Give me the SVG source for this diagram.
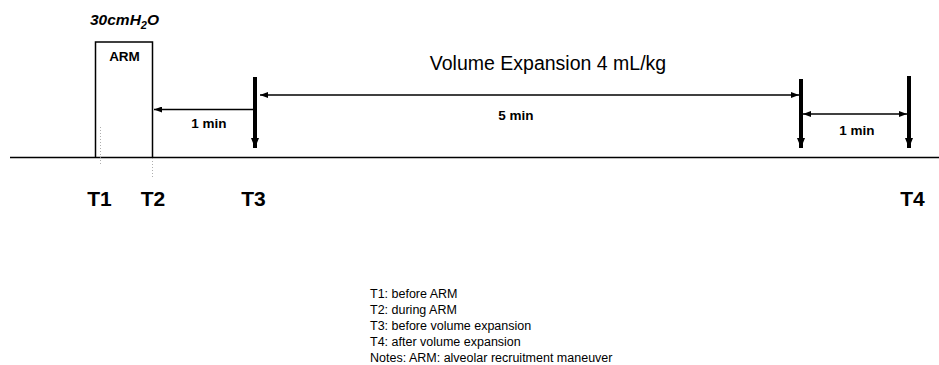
<svg xmlns="http://www.w3.org/2000/svg" width="939" height="365" viewBox="0 0 939 365">
<style>
text{font-family:"Liberation Sans",Arial,sans-serif;fill:#000}
.tl{font-size:21px;font-weight:bold}
.lbl{font-size:13.5px;font-weight:bold}
.leg{font-size:12.5px}
.thin{stroke:#000;stroke-width:1.5;fill:none}
.bar{stroke:#000;stroke-width:4;fill:none}
.dot{stroke:#999;stroke-width:0.8;stroke-dasharray:1 2;fill:none}
</style>
<defs>
<marker id="ah" markerWidth="8" markerHeight="6" refX="8" refY="3" orient="auto-start-reverse" markerUnits="userSpaceOnUse">
<path d="M0,0 L8,3 L0,6 Z" fill="#000"/>
</marker>
<marker id="bh" markerWidth="10" markerHeight="8" refX="10" refY="4" orient="auto" markerUnits="userSpaceOnUse">
<path d="M0,0 L10,4 L0,8 Z" fill="#000"/>
</marker>
</defs>
<g id="baseline"><line class="thin" x1="10" y1="157.5" x2="939" y2="157.5"/></g>
<g id="arm">
<path class="thin" d="M95.5,157.5 V42 H152.5 V157.5"/>
<line class="dot" x1="100.5" y1="127" x2="100.5" y2="165"/>
<line class="dot" x1="152.5" y1="158" x2="152.5" y2="178"/>
<text x="124.5" y="61" class="lbl" text-anchor="middle">ARM</text>
<text x="90" y="25" font-size="15.5" font-weight="bold" font-style="italic">30cmH<tspan font-size="11" dy="4">2</tspan><tspan dy="-4">O</tspan></text>
</g>
<g id="t3"><line class="bar" x1="255" y1="77" x2="255" y2="148" marker-end="url(#bh)"/></g>
<g id="t4a"><line class="bar" x1="801" y1="79" x2="801" y2="148" marker-end="url(#bh)"/></g>
<g id="t4b"><line class="bar" x1="909" y1="76" x2="909" y2="148" marker-end="url(#bh)"/></g>
<g id="connectors">
<line class="thin" x1="257" y1="109.5" x2="154" y2="109.5" marker-end="url(#ah)"/>
<line class="thin" x1="260" y1="95" x2="799" y2="95" marker-start="url(#ah)" marker-end="url(#ah)"/>
<line class="thin" x1="803" y1="114" x2="907" y2="114" marker-start="url(#ah)" marker-end="url(#ah)"/>
</g>
<g id="labels">
<text x="209" y="128" class="lbl" text-anchor="middle">1 min</text>
<text x="516" y="120" class="lbl" text-anchor="middle">5 min</text>
<text x="857" y="135" class="lbl" text-anchor="middle">1 min</text>
<text x="548" y="70" font-size="19.5" text-anchor="middle">Volume Expansion 4 mL/kg</text>
<text x="99.5" y="206" class="tl" text-anchor="middle">T1</text>
<text x="153" y="206" class="tl" text-anchor="middle">T2</text>
<text x="253.5" y="206" class="tl" text-anchor="middle">T3</text>
<text x="912.5" y="206" class="tl" text-anchor="middle">T4</text>
</g>
<g id="legend">
<text x="370" y="298" class="leg">T1: before ARM</text>
<text x="370" y="314" class="leg">T2: during ARM</text>
<text x="370" y="330" class="leg">T3: before volume expansion</text>
<text x="370" y="346" class="leg">T4: after volume expansion</text>
<text x="370" y="362" class="leg">Notes: ARM: alveolar recruitment maneuver</text>
</g>
</svg>
